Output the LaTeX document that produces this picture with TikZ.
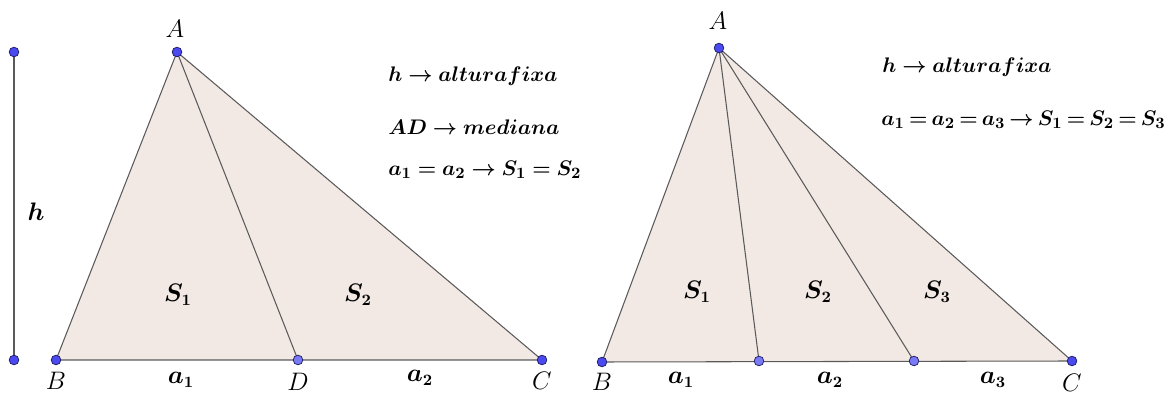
\documentclass[tikz,border=0pt]{standalone}
\usepackage{bm}
\begin{document}
\begin{tikzpicture}[x=0.02cm,y=-0.02cm,
  seg/.style={draw=lin,line width=0.6pt},
  pt/.style={circle,fill=ptc,draw=ptd,line width=0.4pt,inner sep=0pt,minimum size=5.5pt},
  ptl/.style={circle,fill=ptl,draw=ptd,line width=0.4pt,inner sep=0pt,minimum size=5.5pt},
  lab/.style={font=\fontsize{14}{16}\selectfont,inner sep=0pt},
  blab/.style={font=\fontsize{13.5}{16}\selectfont,inner sep=0pt},
  txt/.style={font=\fontsize{12.8}{15}\selectfont,inner sep=0pt,anchor=west},
  rtxt/.style={font=\fontsize{12.2}{15}\selectfont,inner sep=0pt,anchor=west}]
\definecolor{tri}{HTML}{F2E9E5}
\definecolor{lin}{HTML}{5A5A5A}
\definecolor{ptc}{HTML}{4A4AF0}
\definecolor{ptl}{HTML}{7A7AF5}
\definecolor{ptd}{HTML}{1A1A60}
\useasboundingbox (0,0) rectangle (1176,394);
% left figure
\coordinate (A) at (177,52);
\coordinate (B) at (56,360);
\coordinate (D) at (298,360);
\coordinate (C) at (542,360);
\coordinate (H1) at (14,52);
\coordinate (H2) at (14,360);
\fill[tri] (A) -- (B) -- (C) -- cycle;
\draw[seg] (A) -- (B) -- (C) -- cycle;
\draw[seg] (A) -- (D);
\draw[draw=lin,line width=1.2pt] (H1) -- (H2);
\node[pt] at (A) {};
\node[pt] at (B) {};
\node[ptl] at (D) {};
\node[pt] at (C) {};
\node[pt] at (H1) {};
\node[pt] at (H2) {};
\node[lab] (lA) at (175,29) {$A$};
\node[lab] (lB) at (56,381) {$B$};
\node[lab] (lD) at (298,382) {$D$};
\node[lab] (lC) at (542,381) {$C$};
\node[blab] (lh) at (36,212) {$\bm{h}$};
\node[blab] (lS1) at (178,295) {$\bm{S_1}$};
\node[blab] (lS2) at (358,295) {$\bm{S_2}$};
\node[blab] (la1) at (181,380) {$\bm{a_1}$};
\node[blab] (la2) at (420,378) {$\bm{a_2}$};
\node[txt] (t1) at (388,76) {$\bm{h\rightarrow alturafixa}$};
\node[txt] (t2) at (388,127) {$\bm{AD\rightarrow mediana}$};
\node[txt] (t3) at (388,170) {$\bm{a_1=a_2\rightarrow S_1=S_2}$};
% right figure
\coordinate (RA) at (719,48);
\coordinate (RB) at (602,362);
\coordinate (RP) at (759,361);
\coordinate (RQ) at (914,361);
\coordinate (RC) at (1072,361);
\fill[tri] (RA) -- (RB) -- (RC) -- cycle;
\draw[seg] (RA) -- (RB) -- (RC) -- cycle;
\draw[seg] (RA) -- (RP);
\draw[seg] (RA) -- (RQ);
\node[pt] at (RA) {};
\node[pt] at (RB) {};
\node[ptl] at (RP) {};
\node[ptl] at (RQ) {};
\node[pt] at (RC) {};
\node[lab] (rlA) at (718,21) {$A$};
\node[lab] (rlB) at (602,382) {$B$};
\node[lab] (rlC) at (1072,383) {$C$};
\node[blab] (rS1) at (697,292) {$\bm{S_1}$};
\node[blab] (rS2) at (818,292) {$\bm{S_2}$};
\node[blab] (rS3) at (937,292) {$\bm{S_3}$};
\node[blab] (ra1) at (681,380) {$\bm{a_1}$};
\node[blab] (ra2) at (830,380) {$\bm{a_2}$};
\node[blab] (ra3) at (993,380) {$\bm{a_3}$};
\node[rtxt] (rt1) at (882,67) {$\bm{h\rightarrow alturafixa}$};
\node[rtxt] (rt2) at (881,120) {$\thickmuskip=3.5mu\bm{a_1=a_2=a_3\rightarrow S_1=S_2=S_3}$};
\end{tikzpicture}
\end{document}
